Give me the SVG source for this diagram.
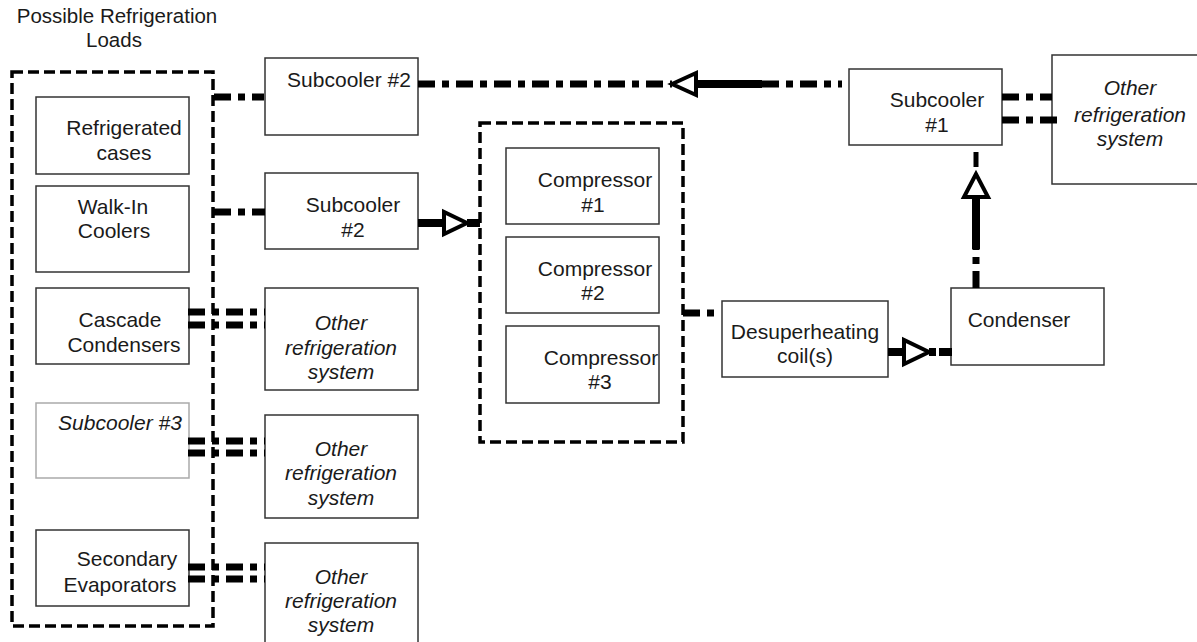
<svg xmlns="http://www.w3.org/2000/svg" width="1197" height="642" viewBox="0 0 1197 642">
<style>
text{font-family:"Liberation Sans",Arial,sans-serif;font-size:21px;fill:#1a1a1a}
.it{font-style:italic}
.c{text-anchor:middle}
.box{fill:#fff;stroke:#333;stroke-width:1.5}
.grey{fill:#fff;stroke:#aaa;stroke-width:1.5}
.grp{fill:none;stroke:#000;stroke-width:3.5;stroke-dasharray:11 5}
.dd{fill:none;stroke:#000;stroke-width:7;stroke-dasharray:17 7 7 7}
.sol{fill:none;stroke:#000;stroke-width:8}
.ah{fill:#fff;stroke:#000;stroke-width:4;stroke-linejoin:miter}
</style>
<rect width="1197" height="642" fill="#fff"/>
<text x="117" y="23" class="c" style="font-size:20.5px">Possible Refrigeration</text>
<text x="114" y="47" class="c" style="font-size:20.5px">Loads</text>

<g id="loads-group"><rect class="grp" x="12" y="72" width="201" height="554"/></g>
<g id="compressor-group"><rect class="grp" x="480" y="123" width="203" height="319"/></g>

<g id="refrigerated-cases"><rect class="box" x="36" y="97" width="153" height="77"/><text x="124" y="135" class="c">Refrigerated</text><text x="124" y="160" class="c">cases</text></g>
<g id="walk-in-coolers"><rect class="box" x="36" y="186" width="153" height="86"/><text x="113" y="214" class="c">Walk-In</text><text x="114" y="238" class="c">Coolers</text></g>
<g id="cascade-condensers"><rect class="box" x="36" y="288" width="153" height="76"/><text x="120" y="327" class="c">Cascade</text><text x="124" y="352" class="c">Condensers</text></g>
<g id="subcooler-3"><rect class="grey" x="36" y="403" width="153" height="75"/><text x="120" y="430" class="c it">Subcooler #3</text></g>
<g id="secondary-evaporators"><rect class="box" x="36" y="530" width="153" height="76"/><text x="127" y="566" class="c">Secondary</text><text x="120" y="592" class="c">Evaporators</text></g>

<g id="subcooler-2a"><rect class="box" x="265" y="58" width="153" height="77"/><text x="349" y="87" class="c">Subcooler #2</text></g>
<g id="subcooler-2b"><rect class="box" x="265" y="173" width="153" height="76"/><text x="353" y="212" class="c">Subcooler</text><text x="353" y="237" class="c">#2</text></g>
<g id="other-1"><rect class="box" x="265" y="288" width="153" height="102"/><text x="341" y="330" class="c it">Other</text><text x="341" y="355" class="c it">refrigeration</text><text x="341" y="379" class="c it">system</text></g>
<g id="other-2"><rect class="box" x="265" y="415" width="153" height="103"/><text x="341" y="456" class="c it">Other</text><text x="341" y="480" class="c it">refrigeration</text><text x="341" y="505" class="c it">system</text></g>
<g id="other-3"><rect class="box" x="265" y="543" width="153" height="110"/><text x="341" y="584" class="c it">Other</text><text x="341" y="608" class="c it">refrigeration</text><text x="341" y="632" class="c it">system</text></g>

<g id="compressor-1"><rect class="box" x="506" y="148" width="153" height="76"/><text x="595" y="187" class="c">Compressor</text><text x="593" y="212" class="c">#1</text></g>
<g id="compressor-2"><rect class="box" x="506" y="237" width="153" height="76"/><text x="595" y="276" class="c">Compressor</text><text x="593" y="300" class="c">#2</text></g>
<g id="compressor-3"><rect class="box" x="506" y="326" width="153" height="77"/><text x="601" y="365" class="c">Compressor</text><text x="600" y="389" class="c">#3</text></g>

<g id="desuperheating"><rect class="box" x="722" y="301" width="166" height="76"/><text x="805" y="339" class="c">Desuperheating</text><text x="805" y="363" class="c">coil(s)</text></g>
<g id="condenser"><rect class="box" x="951" y="288" width="153" height="77"/><text x="1019" y="327" class="c">Condenser</text></g>
<g id="subcooler-1"><rect class="box" x="849" y="69" width="153" height="76"/><text x="937" y="107" class="c">Subcooler</text><text x="937" y="132" class="c">#1</text></g>
<g id="other-right"><rect class="box" x="1052" y="55" width="160" height="129"/><text x="1130" y="95" class="c it">Other</text><text x="1130" y="122" class="c it">refrigeration</text><text x="1130" y="146" class="c it">system</text></g>

<g id="connectors">
<path class="dd" d="M214,97 H264"/>
<path class="dd" d="M418,84 H672"/>
<path class="sol" d="M695,84 H762"/>
<path class="dd" d="M762,84 H842"/>
<polygon class="ah" points="672,84 696,73 696,95"/>
<path class="dd" d="M214,212 H265"/>
<path class="sol" d="M418,223 H445"/>
<polygon class="ah" points="467,223 444,212 444,234"/>
<path class="sol" d="M467,223 H480"/>
<path class="dd" d="M188,312 H265 M188,325 H265"/>
<path class="dd" d="M188,441 H265 M188,453 H265"/>
<path class="dd" d="M188,567 H265 M188,579 H265"/>
<path class="dd" d="M683,313 H716"/>
<path class="sol" d="M888,352 H906"/>
<polygon class="ah" points="929,352 904,340 904,364"/>
<path class="sol" d="M929,352 H936"/>
<path class="sol" d="M939,352 H952"/>
<path class="dd" d="M976,288 V247"/>
<path class="sol" d="M976,249 V196"/>
<polygon class="ah" points="976,174 964,197 988,197"/>
<path class="sol" d="M976,152 V167" style="stroke-width:5"/>
<path class="dd" d="M1002,97 H1052 M1002,120 H1058"/>
</g>
</svg>
